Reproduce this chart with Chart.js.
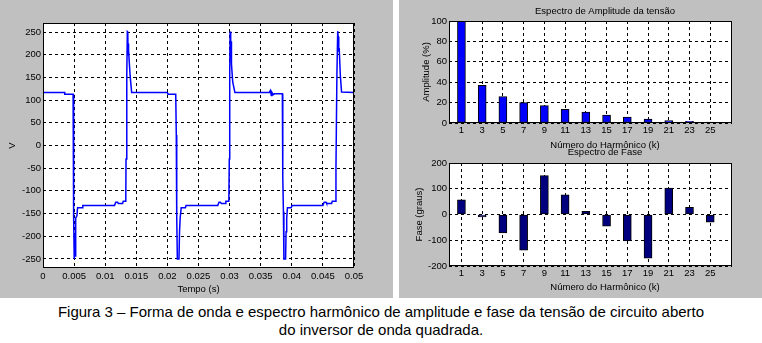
<!DOCTYPE html>
<html>
<head>
<meta charset="utf-8">
<script src="https://cdn.jsdelivr.net/npm/chart.js@4.4.1/dist/chart.umd.min.js"></script>
<style>
  body { margin: 0; width: 762px; height: 343px; background: #fff; position: relative; overflow: hidden; }
  .painel { position: absolute; top: 0; height: 298px; background: #c0c0c0; }
  canvas { position: absolute; }
  #legenda { position: absolute; left: 0; top: 303px; width: 762px; text-align: center;
             font: 15px/18px "Liberation Sans", Arial, sans-serif; color: #000; }
</style>
</head>
<body>
<div class="painel" style="left:0;width:393px"></div>
<div class="painel" style="left:399px;width:363px"></div>
<canvas id="onda" width="393" height="298" style="left:0;top:0"></canvas>
<canvas id="amplitude" width="363" height="150" style="left:399px;top:0"></canvas>
<canvas id="fase" width="363" height="158" style="left:399px;top:140px"></canvas>
<div id="legenda">Figura 3 – Forma de onda e espectro harmônico de amplitude e fase da tensão de circuito aberto<br>do inversor de onda quadrada.</div>

<script>
// forma de onda
const tempo = [
  0, 0.0035, 0.0035, 0.00484, 0.00487, 0.00493, 0.00497, 0.00502, 0.00513, 0.00518,
  0.00523, 0.00528, 0.00545, 0.00556, 0.0063, 0.0064, 0.0115, 0.0117, 0.0120, 0.0121,
  0.0128, 0.0129, 0.01331, 0.01335, 0.01347, 0.01356, 0.01363, 0.01368, 0.01372, 0.01379,
  0.0140, 0.01425, 0.0200, 0.0201, 0.02134, 0.02143, 0.02150, 0.02160, 0.02186, 0.02195,
  0.02205, 0.02222, 0.0229, 0.0230, 0.0281, 0.0283, 0.0285, 0.0287, 0.0293, 0.0294,
  0.02988, 0.02995, 0.03002, 0.03008, 0.03015, 0.03020, 0.03025, 0.0303, 0.0305, 0.03085,
  0.0364, 0.03655, 0.0367, 0.0368, 0.0370, 0.0372, 0.03848, 0.03855, 0.03865, 0.03873,
  0.03900, 0.03908, 0.03918, 0.0393, 0.0399, 0.04005, 0.0450, 0.0452, 0.0455, 0.0456,
  0.0464, 0.0465, 0.04700, 0.04710, 0.04725, 0.04738, 0.04745, 0.04755, 0.04762, 0.0478,
  0.0480, 0.05
];
const tensao = [
  117, 117, 113, 113, 23, 20, -157, -250, -250, -195,
  -245, -160, -155, -137, -137, -132, -132, -125, -125, -128,
  -128, -123, -123, -30, 155, 251, 250, 200, 225, 210,
  155, 117, 117, 113, 113, 23, -157, -250, -250, -190,
  -160, -137, -137, -132, -132, -125, -125, -128, -128, -123,
  -123, -30, 155, 251, 240, 210, 230, 180, 140, 117,
  117, 121, 110, 117, 112, 114, 114, -69, -146, -250,
  -250, -190, -160, -137, -137, -132, -132, -125, -125, -128,
  -128, -123, -123, -50, 155, 252, 240, 207, 215, 155,
  118, 117
];

// espectro
const harmonicos = [1, 3, 5, 7, 9, 11, 13, 15, 17, 19, 21, 23, 25];
const amplitude = [100, 37, 26, 20, 17, 13.3, 10.7, 7.8, 5.8, 3.9, 2.3, 1.6, 1];
const fase = [57, -9, -72, -139, 151, 76, 12, -45, -103, -170, 103, 28, -30];

Chart.defaults.font.family = '"Liberation Sans", Arial, sans-serif';
Chart.defaults.font.size = 9.5;
Chart.defaults.color = '#000';

// fundo branco e moldura da área do gráfico
const caixa = {
  id: 'caixa',
  beforeDraw(chart) {
    const { ctx, chartArea: a } = chart;
    ctx.save();
    ctx.fillStyle = '#fff';
    ctx.fillRect(a.left, a.top, a.width, a.height);
    ctx.restore();
  },
  afterDraw(chart) {
    const { ctx, chartArea: a } = chart;
    ctx.save();
    ctx.strokeStyle = '#000';
    ctx.lineWidth = 1;
    ctx.setLineDash([]);
    ctx.strokeRect(Math.round(a.left) + 0.5, Math.round(a.top) + 0.5,
                   Math.round(a.width) - 1, Math.round(a.height) - 1);
    ctx.restore();
  }
};

// título e rótulo do eixo x nos espectros (deslocados como no original)
const rotulos = {
  id: 'rotulos',
  afterDraw(chart, args, opts) {
    const ctx = chart.ctx;
    ctx.save();
    ctx.fillStyle = '#000';
    ctx.font = '9.5px "Liberation Sans", Arial, sans-serif';
    ctx.textAlign = 'center';
    ctx.textBaseline = 'middle';
    opts.itens.forEach(it => ctx.fillText(it.texto, opts.x, it.y));
    ctx.restore();
  }
};

const grade = { color: '#000', drawTicks: false, lineWidth: 1 };
const borda = { display: false, dash: [3, 3] };

new Chart(document.getElementById('onda'), {
  type: 'line',
  data: {
    datasets: [{
      data: tempo.map((t, i) => ({ x: t, y: tensao[i] })),
      borderColor: '#0000ff',
      borderWidth: 1.5,
      pointRadius: 0,
      tension: 0,
      fill: false
    }]
  },
  options: {
    responsive: false,
    animation: false,
    layout: { padding: { top: 23, right: 39, left: 0, bottom: 0 } },
    plugins: { legend: { display: false }, tooltip: { enabled: false } },
    scales: {
      x: {
        type: 'linear', min: 0, max: 0.05,
        ticks: {
          stepSize: 0.005, padding: 3, maxRotation: 0, autoSkip: false,
          callback: v => String(Number(v.toFixed(3)))
        },
        grid: grade, border: borda,
        title: { display: true, text: 'Tempo (s)', padding: { top: 0, bottom: 3 } },
        afterFit: s => { s.height = 30; }
      },
      y: {
        min: -270, max: 270,
        ticks: { stepSize: 50, padding: 2, includeBounds: false },
        grid: grade, border: borda,
        title: { display: true, text: 'V', padding: { top: 7, bottom: 0 } },
        afterFit: s => { s.width = 43; }
      }
    }
  },
  plugins: [caixa]
});

function eixoHarmonicos(altura) {
  return {
    type: 'linear', min: -0.2, max: 27.1, offset: false,
    afterBuildTicks: ax => { ax.ticks = harmonicos.map(v => ({ value: v })); },
    ticks: { padding: 2, autoSkip: false, maxRotation: 0 },
    grid: Object.assign({ offset: false }, grade), border: borda,
    afterFit: s => { s.height = altura; }
  };
}

new Chart(document.getElementById('amplitude'), {
  type: 'bar',
  data: {
    datasets: [{
      data: harmonicos.map((k, i) => ({ x: k, y: amplitude[i] })),
      backgroundColor: '#0000ff',
      borderColor: '#000',
      borderWidth: 1,
      borderSkipped: false,
      barThickness: 8
    }]
  },
  options: {
    responsive: false,
    animation: false,
    layout: { padding: { top: 21, right: 30, left: 0, bottom: 0 } },
    plugins: {
      legend: { display: false }, tooltip: { enabled: false },
      rotulos: { x: 206, itens: [
        { texto: 'Espectro de Amplitude da tensão', y: 11 },
        { texto: 'Número do Harmônico (k)', y: 145 }
      ] }
    },
    scales: {
      x: eixoHarmonicos(27),
      y: {
        min: 0, max: 100,
        ticks: { stepSize: 20, padding: 2 },
        grid: grade, border: borda,
        title: { display: true, text: 'Amplitude (%)', padding: { top: 22, bottom: 0 } },
        afterFit: s => { s.width = 50; }
      }
    }
  },
  plugins: [caixa, rotulos]
});

new Chart(document.getElementById('fase'), {
  type: 'bar',
  data: {
    datasets: [{
      data: harmonicos.map((k, i) => ({ x: k, y: fase[i] })),
      backgroundColor: '#00007f',
      borderColor: '#000',
      borderWidth: 1,
      borderSkipped: false,
      barThickness: 8
    }]
  },
  options: {
    responsive: false,
    animation: false,
    layout: { padding: { top: 23, right: 30, left: 0, bottom: 0 } },
    plugins: {
      legend: { display: false }, tooltip: { enabled: false },
      rotulos: { x: 206, itens: [
        { texto: 'Espectro de Fase', y: 12 },
        { texto: 'Número do Harmônico (k)', y: 147 }
      ] }
    },
    scales: {
      x: eixoHarmonicos(32),
      y: {
        min: -200, max: 200,
        ticks: { stepSize: 100, padding: 2 },
        grid: grade, border: borda,
        title: { display: true, text: 'Fase (graus)', padding: { top: 15, bottom: 0 } },
        afterFit: s => { s.width = 50; }
      }
    }
  },
  plugins: [caixa, rotulos]
});
</script>
</body>
</html>
